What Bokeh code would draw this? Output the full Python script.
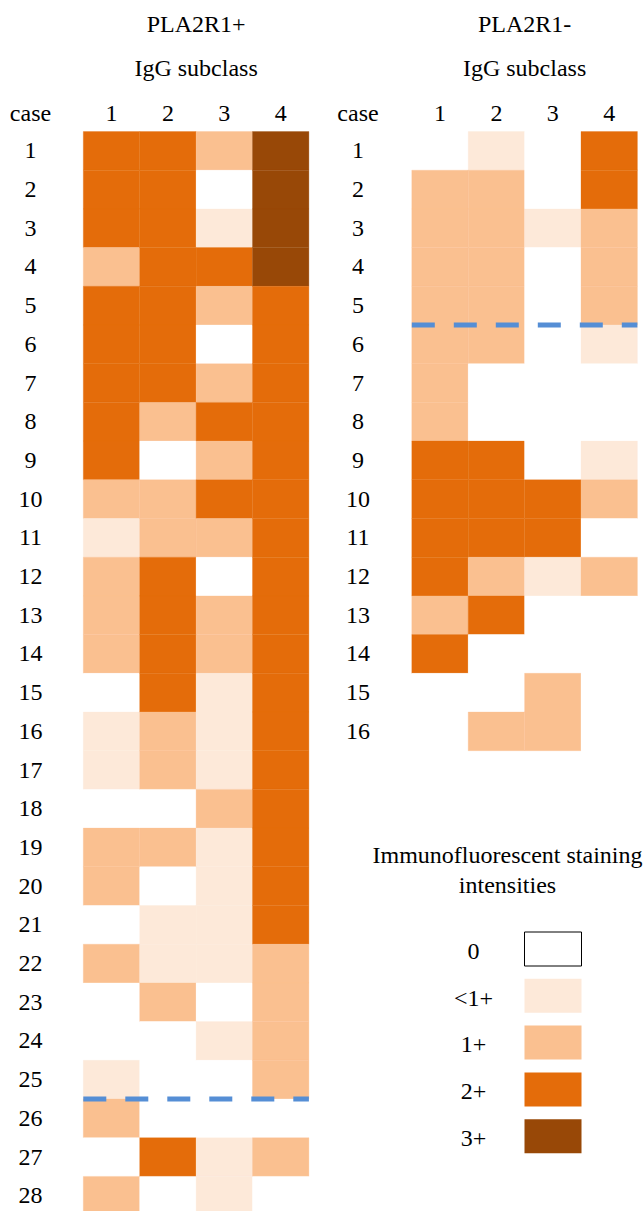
from bokeh.plotting import figure
from bokeh.models import Range1d, ColumnDataSource
from bokeh.layouts import row
from bokeh.core.properties import value
from bokeh.embed import file_html
from bokeh.resources import INLINE

# ---------------- data ----------------
levels = ["0", "<1+", "1+", "2+", "3+"]
level_colors = ["#FFFFFF", "#FDE9D9", "#FAC090", "#E46C0A", "#984807"]
subclasses = ["1", "2", "3", "4"]

pos_title = "PLA2R1+"
neg_title = "PLA2R1-"
sub_title = "IgG subclass"
legend_title = ["Immunofluorescent staining", "intensities"]

# PLA2R1+ cases 1..28, staining per IgG subclass
pos_igg1 = ["2+", "2+", "2+", "1+", "2+", "2+", "2+", "2+", "2+", "1+", "<1+", "1+", "1+", "1+",
            "0", "<1+", "<1+", "0", "1+", "1+", "0", "1+", "0", "0", "<1+", "1+", "0", "1+"]
pos_igg2 = ["2+", "2+", "2+", "2+", "2+", "2+", "2+", "1+", "0", "1+", "1+", "2+", "2+", "2+",
            "2+", "1+", "1+", "0", "1+", "0", "<1+", "<1+", "1+", "0", "0", "0", "2+", "0"]
pos_igg3 = ["1+", "0", "<1+", "2+", "1+", "0", "1+", "2+", "1+", "2+", "1+", "0", "1+", "1+",
            "<1+", "<1+", "<1+", "1+", "<1+", "<1+", "<1+", "<1+", "0", "<1+", "0", "0", "<1+", "<1+"]
pos_igg4 = ["3+", "3+", "3+", "3+", "2+", "2+", "2+", "2+", "2+", "2+", "2+", "2+", "2+", "2+",
            "2+", "2+", "2+", "2+", "2+", "2+", "2+", "1+", "1+", "1+", "1+", "0", "1+", "0"]
pos_divider_after = 25

# PLA2R1- cases 1..16
neg_igg1 = ["0", "1+", "1+", "1+", "1+", "1+", "1+", "1+", "2+", "2+", "2+", "2+", "1+", "2+", "0", "0"]
neg_igg2 = ["<1+", "1+", "1+", "1+", "1+", "1+", "0", "0", "2+", "2+", "2+", "1+", "2+", "0", "0", "1+"]
neg_igg3 = ["0", "0", "<1+", "0", "0", "0", "0", "0", "0", "2+", "2+", "<1+", "0", "0", "1+", "1+"]
neg_igg4 = ["2+", "2+", "1+", "1+", "1+", "<1+", "0", "0", "<1+", "1+", "0", "1+", "0", "0", "0", "0"]
neg_divider_after = 5

# ---------------- style ----------------
FONT = value("Liberation Serif")
FSIZE = "24px"
TXT = "#000000"
DASH_COLOR = "#558ED5"

W_EACH = 322
H = 1211
COL_PX = 56.4
ROW_PX = 38.7
ROW1_CENTER_PX = 150.35
Y_TOP = 1 - ROW1_CENTER_PX / ROW_PX
Y_BOT = Y_TOP + H / ROW_PX


def py(px):
    """page pixel (from top) -> row units"""
    return 1 + (px - ROW1_CENTER_PX) / ROW_PX


def make_panel(title, cols, divider_after, x_start, label_x, with_legend=False):
    p = figure(width=W_EACH, height=H, output_backend="svg", toolbar_location=None,
               x_range=Range1d(x_start, x_start + W_EACH / COL_PX),
               y_range=Range1d(Y_BOT, Y_TOP), min_border=0,
               background_fill_color="white", border_fill_color="white")
    p.axis.visible = False
    p.grid.visible = False
    p.outline_line_color = None

    n = len(cols[0])
    xs, ys, fills = [], [], []
    for ci, col in enumerate(cols):
        for ri, lev in enumerate(col):
            xs.append(ci + 1)
            ys.append(ri + 1)
            fills.append(level_colors[levels.index(lev)])
    src = ColumnDataSource(dict(x=xs, y=ys, c=fills))
    p.rect(x="x", y="y", width=1.0, height=1.0, source=src, fill_color="c",
           line_color="c", line_width=0.3)

    txt_kw = dict(text_font=FONT, text_font_size=FSIZE, text_color=TXT,
                  text_align="center", text_baseline="alphabetic")
    # row labels
    case_ids = [str(i + 1) for i in range(n)]
    p.text(x=[label_x] * n, y=[i + 1 for i in range(n)], text=case_ids, **txt_kw)
    # header
    p.text(x=[label_x], y=[py(112.5)], text=["case"], **txt_kw)
    p.text(x=[i + 1 for i in range(len(subclasses))], y=[py(112.5)] * len(subclasses),
           text=subclasses, **txt_kw)
    p.text(x=[2.5], y=[py(67.5)], text=[sub_title], **txt_kw)
    p.text(x=[2.5], y=[py(23.2)], text=[title], **txt_kw)

    # divider
    yd = divider_after + 0.5
    p.line(x=[0.5, len(cols) + 0.5], y=[yd, yd], line_color=DASH_COLOR, line_width=5,
           line_dash="23 19", line_cap="butt")

    if with_legend:
        lx = 1 + (473 - 439.5) / COL_PX
        bx = 1 + (552.5 - 439.5) / COL_PX
        tx = 1 + (507 - 439.5) / COL_PX
        step = 46.8 / ROW_PX
        p.text(x=[tx, tx], y=[py(854.5), py(884.2)], text=legend_title, **txt_kw)
        ly = [py(950.5) + i * step for i in range(len(levels))]
        p.text(x=[lx] * len(levels), y=ly, text=levels, **txt_kw)
        by = [py(948.5) + i * step for i in range(len(levels))]
        p.rect(x=[bx] * len(levels), y=by, width=57 / COL_PX, height=34 / ROW_PX,
               fill_color=level_colors,
               line_color=["#000000"] + [None] * (len(levels) - 1), line_width=1)
    return p


left = make_panel(pos_title, [pos_igg1, pos_igg2, pos_igg3, pos_igg4], pos_divider_after,
                  1 - 111 / COL_PX, 1 - 81 / COL_PX)
right = make_panel(neg_title, [neg_igg1, neg_igg2, neg_igg3, neg_igg4], neg_divider_after,
                   1 - (439.5 - 322) / COL_PX, 1 - 82 / COL_PX, with_legend=True)

layout = row(left, right, spacing=0)
open("out.html", "w").write(file_html(layout, INLINE))
